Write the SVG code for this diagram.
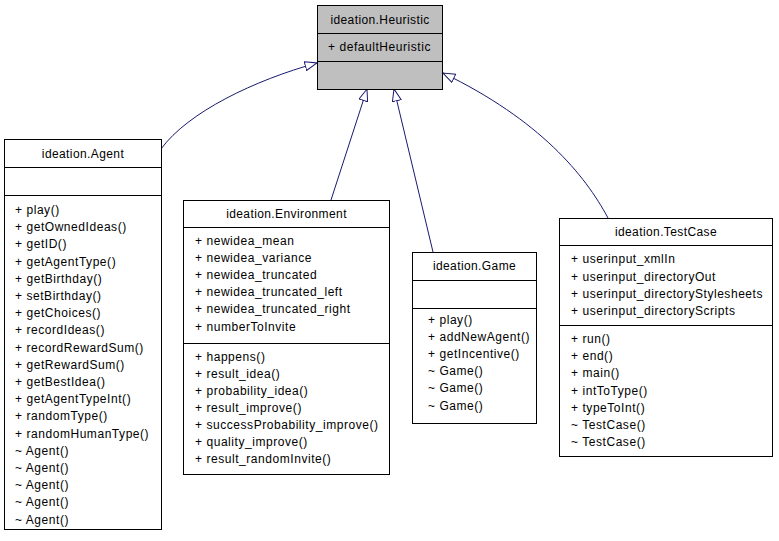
<svg xmlns="http://www.w3.org/2000/svg" width="779" height="541" viewBox="0 0 779 541">
<style>
.box{fill:#fff;stroke:#000;stroke-width:1}
.base{fill:#bfbfbf;stroke:#000;stroke-width:1}
.div{stroke:#000;stroke-width:1}
text{font-family:"Liberation Sans",Arial,sans-serif;font-size:12px;fill:#000;letter-spacing:0.55px}
text.t{text-anchor:middle;letter-spacing:0.4px}
.e{fill:none;stroke:#191970;stroke-width:1;marker-end:url(#inh)}
</style>
<defs>
<marker id="inh" viewBox="0 0 13 10" refX="12.5" refY="5" markerWidth="13" markerHeight="10" markerUnits="userSpaceOnUse" orient="auto">
<path d="M0.5,0.5 L12.5,5 L0.5,9.5 Z" fill="#fff" stroke="#191970" stroke-width="1"/>
</marker>
</defs>
<g id="connectors">
<path class="e" d="M161,149 C188,112 255,80 317,63"/>
<path class="e" d="M331,200 L367,89"/>
<path class="e" d="M433,252 L394,89"/>
<path class="e" d="M608,218 C585,175 540,120 443,73"/>
</g>
<g id="heuristic">
<rect class="base" x="317.5" y="5.5" width="125" height="84"/>
<line class="div" x1="317.5" y1="33.5" x2="442.5" y2="33.5"/>
<line class="div" x1="317.5" y1="61.5" x2="442.5" y2="61.5"/>
<text class="t" x="380" y="23.5">ideation.Heuristic</text>
<text x="328" y="51">+ defaultHeuristic</text>
</g>
<g id="agent">
<rect class="box" x="4.5" y="139.5" width="157" height="390"/>
<line class="div" x1="4.5" y1="167.5" x2="161.5" y2="167.5"/>
<line class="div" x1="4.5" y1="195.5" x2="161.5" y2="195.5"/>
<text class="t" x="83" y="158">ideation.Agent</text>
<text x="15" y="214">+ play()</text>
<text x="15" y="231.2">+ getOwnedIdeas()</text>
<text x="15" y="248.4">+ getID()</text>
<text x="15" y="265.6">+ getAgentType()</text>
<text x="15" y="282.8">+ getBirthday()</text>
<text x="15" y="300">+ setBirthday()</text>
<text x="15" y="317.2">+ getChoices()</text>
<text x="15" y="334.4">+ recordIdeas()</text>
<text x="15" y="351.6">+ recordRewardSum()</text>
<text x="15" y="368.8">+ getRewardSum()</text>
<text x="15" y="386">+ getBestIdea()</text>
<text x="15" y="403.2">+ getAgentTypeInt()</text>
<text x="15" y="420.4">+ randomType()</text>
<text x="15" y="437.6">+ randomHumanType()</text>
<text x="15" y="454.8">~ Agent()</text>
<text x="15" y="472">~ Agent()</text>
<text x="15" y="489.2">~ Agent()</text>
<text x="15" y="506.4">~ Agent()</text>
<text x="15" y="523.6">~ Agent()</text>
</g>
<g id="environment">
<rect class="box" x="183.5" y="200.5" width="206" height="274"/>
<line class="div" x1="183.5" y1="227.5" x2="389.5" y2="227.5"/>
<line class="div" x1="183.5" y1="343.5" x2="389.5" y2="343.5"/>
<text class="t" x="286.5" y="218">ideation.Environment</text>
<text x="195" y="244.5">+ newidea_mean</text>
<text x="195" y="261.7">+ newidea_variance</text>
<text x="195" y="278.9">+ newidea_truncated</text>
<text x="195" y="296.1">+ newidea_truncated_left</text>
<text x="195" y="313.3">+ newidea_truncated_right</text>
<text x="195" y="330.5">+ numberToInvite</text>
<text x="195" y="361">+ happens()</text>
<text x="195" y="378">+ result_idea()</text>
<text x="195" y="395">+ probability_idea()</text>
<text x="195" y="412">+ result_improve()</text>
<text x="195" y="429">+ successProbability_improve()</text>
<text x="195" y="446">+ quality_improve()</text>
<text x="195" y="463">+ result_randomInvite()</text>
</g>
<g id="game">
<rect class="box" x="412.5" y="252.5" width="124" height="171"/>
<line class="div" x1="412.5" y1="280.5" x2="536.5" y2="280.5"/>
<line class="div" x1="412.5" y1="308.5" x2="536.5" y2="308.5"/>
<text class="t" x="474.5" y="269.5">ideation.Game</text>
<text x="428" y="323.5">+ play()</text>
<text x="428" y="340.7">+ addNewAgent()</text>
<text x="428" y="357.9">+ getIncentive()</text>
<text x="428" y="375.1">~ Game()</text>
<text x="428" y="392.3">~ Game()</text>
<text x="428" y="409.5">~ Game()</text>
</g>
<g id="testcase">
<rect class="box" x="559.5" y="218.5" width="213" height="238"/>
<line class="div" x1="559.5" y1="245.5" x2="772.5" y2="245.5"/>
<line class="div" x1="559.5" y1="325.5" x2="772.5" y2="325.5"/>
<text class="t" x="666" y="236">ideation.TestCase</text>
<text x="571" y="263.3">+ userinput_xmlIn</text>
<text x="571" y="280.5">+ userinput_directoryOut</text>
<text x="571" y="297.7">+ userinput_directoryStylesheets</text>
<text x="571" y="314.9">+ userinput_directoryScripts</text>
<text x="571" y="343">+ run()</text>
<text x="571" y="360.2">+ end()</text>
<text x="571" y="377.4">+ main()</text>
<text x="571" y="394.6">+ intToType()</text>
<text x="571" y="411.8">+ typeToInt()</text>
<text x="571" y="429">~ TestCase()</text>
<text x="571" y="446.2">~ TestCase()</text>
</g>
</svg>
